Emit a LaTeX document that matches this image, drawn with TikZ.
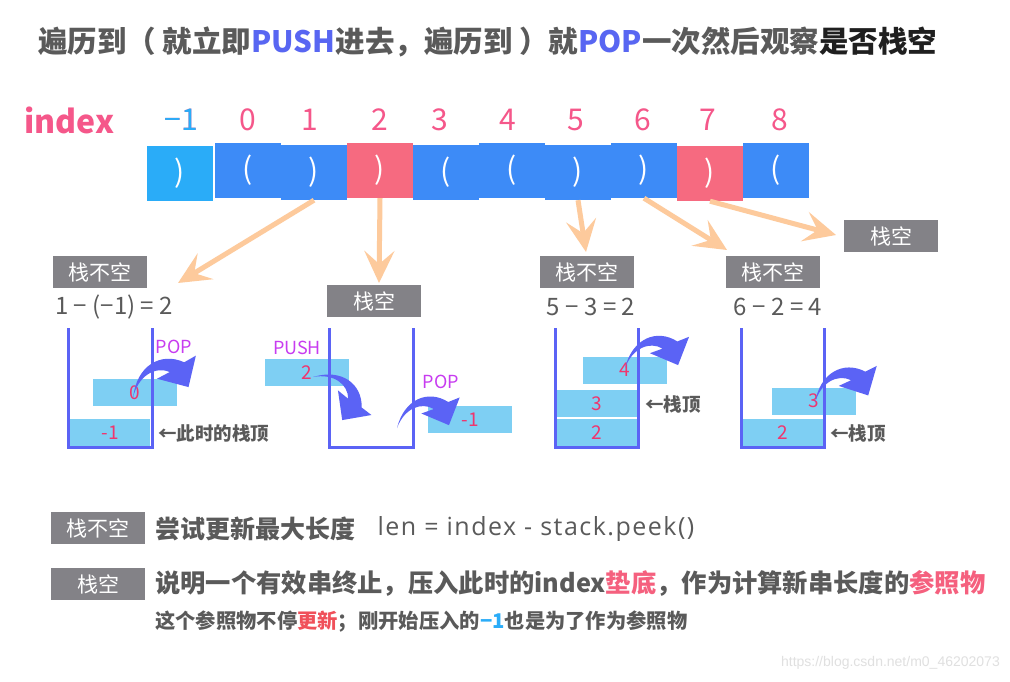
\documentclass[tikz,border=0pt]{standalone}
\usepackage{fontspec}
\setmainfont{Noto Sans CJK SC}
\newfontfamily\codefont{Open Sans}[LetterSpace=6]
\newfontfamily\urlfont{Liberation Sans}
\usetikzlibrary{arrows.meta,positioning}
\definecolor{cellLight}{HTML}{2AACF8}
\definecolor{cellBlue}{HTML}{3D8BF7}
\definecolor{cellPink}{HTML}{F66A80}
\definecolor{idxPink}{HTML}{F5578A}
\definecolor{peach}{HTML}{FDCA9C}
\definecolor{boxGray}{HTML}{838287}
\definecolor{cupBlue}{HTML}{5B63F5}
\definecolor{blockBlue}{HTML}{7ECFF3}
\definecolor{numRed}{HTML}{F0356E}
\definecolor{opPurple}{HTML}{C83CF0}
\definecolor{txtGray}{HTML}{5A5A5A}
\definecolor{hiBlue}{HTML}{5866F2}
\definecolor{hiPink}{HTML}{F5607E}
\definecolor{hiRed}{HTML}{F0505A}
\tikzset{
  cell/.style={minimum width=66pt, minimum height=55pt, inner sep=0pt, text=white,
    font=\fontsize{30}{30}\selectfont},
  idxnum/.style={font=\fontsize{30}{30}\selectfont, text=idxPink, inner sep=0pt},
  tagbox/.style={fill=boxGray, text=white, minimum width=94pt, minimum height=32pt,
    inner sep=0pt, font=\fontsize{21}{21}\selectfont},
  eqn/.style={text=txtGray, font=\fontsize{24}{24}\selectfont, inner sep=0pt},
  peacharrow/.style={draw=peach, line width=5pt, -{Stealth[length=32pt,width=30pt,inset=13pt]}},
  cup/.style={draw=cupBlue, line width=3pt},
  block/.style={fill=blockBlue, minimum height=27pt, inner sep=0pt, text=numRed,
    font=\fontsize{19}{19}\selectfont},
  oplabel/.style={text=opPurple, font=\fontsize{18}{18}\selectfont, inner sep=0pt},
  toplabel/.style={text=txtGray, font=\bfseries\fontsize{18.5}{18.5}\selectfont, inner sep=0pt, anchor=west},
  note/.style={text=txtGray, inner sep=0pt, anchor=west},
}
% curved pop/push arrow: position, rotation, scale
\newcommand{\bendarrow}[3]{%
  \fill[cupBlue, shift={#1}, rotate=#2, scale=#3] (0,0) .. controls (5,-32) and (30,-45) .. (53,-33)
    -- (65,-39) -- (56,-8) -- (25,-18) -- (38,-24) .. controls (24,-31) and (6,-22) .. (0,0) -- cycle;
}
\begin{document}
\begin{tikzpicture}[x=1pt,y=-1pt]
  \fill[white] (0,0) rectangle (1010,682);
  \useasboundingbox (0,0) rectangle (1010,682);
  % title
  \node[note, font=\bfseries\fontsize{29.5}{29.5}\selectfont] (title) at (38,42)
    {遍历到（ 就立即{\color{hiBlue}PUSH}进去，遍历到 ）就{\color{hiBlue}POP}一次然后观察{\color{black!88}是否栈空}};
  % index row and string cells
  \node[idxnum, font=\bfseries\fontsize{32}{32}\selectfont, anchor=west] (idx) at (24,120) {index};
  \foreach \i/\lab/\nx/\cx/\ch/\col/\cy in {m1/{−1}/181/180/{)}/cellLight/173.5, 0/0/248/248/{(}/cellBlue/170.5,
      1/1/310/314/{)}/cellBlue/172.5, 2/2/380/380/{)}/cellPink/170.5, 3/3/440/446/{(}/cellBlue/172.5,
      4/4/508/512/{(}/cellBlue/170.5, 5/5/576/578/{)}/cellBlue/172.5, 6/6/643/644/{)}/cellBlue/170.5,
      7/7/708/710/{)}/cellPink/173.5, 8/8/780/776/{(}/cellBlue/170.5}{
    \node[cell, fill=\col] (c\i) at (\cx,\cy) {\ch};
    \node[idxnum] (n\i) at (\nx,120) {\lab};
  }
  \node[idxnum, text=cellLight] at (nm1) {−1};
  % peach arrows
  \coordinate (t1) at (178,283);
  \coordinate (t2) at (379,283);
  \coordinate (t3) at (586,252);
  \coordinate (t4) at (727,250);
  \coordinate (t5) at (836,235);
  \draw[peacharrow] (c1.south) -- (t1);
  \draw[peacharrow] (c2.south) -- (t2);
  \draw[peacharrow] (c5.south) -- (t3);
  \draw[peacharrow] (c6.south) -- (t4);
  \draw[peacharrow] (c7.south) -- (t5);
  % state tags
  \node[tagbox] (e1) at (100,272) {栈不空};
  \node[tagbox] (e2) at (374,301) {栈空};
  \node[tagbox] (e3) at (587,272) {栈不空};
  \node[tagbox] (e4) at (773,272) {栈不空};
  \node[tagbox] (e5) at (891,236) {栈空};
  \node[eqn] (q1) at (114,307) {1 − (−1) = 2};
  \node[eqn] (q3) at (591,307) {5 − 3 = 2};
  \node[eqn] (q4) at (778,307) {6 − 2 = 4};
  % stack blocks
  \node[block, minimum width=80pt] (k1a) at (110,432.5) {-1};
  \node[block, minimum width=84pt] (k1b) at (135,392.5) {0};
  \node[block, minimum width=84pt] (k2a) at (307,372.5) {2};
  \node[block, minimum width=84pt] (k2b) at (470,419.5) {-1};
  \node[block, minimum width=80pt] (k3a) at (597,432.5) {2};
  \node[block, minimum width=80pt] (k3b) at (597,403.5) {3};
  \node[block, minimum width=84pt] (k3c) at (625,370) {4};
  \node[block, minimum width=80pt] (k4a) at (783,432.5) {2};
  \node[block, minimum width=84pt] (k4b) at (814,401) {3};
  % stacks
  \draw[cup] (68,328) |- (152,447) -- (152,328);
  \draw[cup] (329,328) |- (413,447) -- (413,328);
  \draw[cup] (555,328) |- (638,447) -- (638,328);
  \draw[cup] (741,328) |- (824,447) -- (824,328);
  % push / pop moves
  \node[oplabel] (p1) at (174,347) {POP};
  \node[oplabel] (p2) at (297,348) {PUSH};
  \node[oplabel] (p3) at (441,382) {POP};
  \bendarrow{(133,398)}{3}{1.0}
  \bendarrow{(313,377)}{-64}{0.92}
  \bendarrow{(397,428)}{-5}{0.92}
  \bendarrow{(625,368)}{-5}{0.94}
  \bendarrow{(815,403)}{0}{0.95}
  \node[toplabel] (r1) at (158,433) {←此时的栈顶};
  \node[toplabel] (r3) at (645,404) {←栈顶};
  \node[toplabel] (r4) at (830,433) {←栈顶};
  % notes at the bottom
  \node[tagbox] (b1) at (98,528) {栈不空};
  \node[note, font=\bfseries\fontsize{25}{25}\selectfont] (s1) at (155,529) {尝试更新最大长度};
  \node[note, font=\codefont\fontsize{25}{25}\selectfont, right=22pt of s1] (s1b) {len = index - stack.peek()};
  \node[tagbox] (b2) at (98,584) {栈空};
  \node[note, font=\bfseries\fontsize{25.3}{25.3}\selectfont] (s2) at (155,583)
    {说明一个有效串终止，压入此时的index{\color{hiPink}垫底}，作为计算新串长度的{\color{hiPink}参照物}};
  \node[note, font=\bfseries\fontsize{20.3}{20.3}\selectfont] (s3) at (155,622)
    {这个参照物不停{\color{hiRed}更新}；刚开始压入的{\color{cellLight}−1}也是为了作为参照物};
  \node[text=black!12, font=\urlfont\fontsize{14}{14}\selectfont, anchor=east, inner sep=0pt] (url) at (1000,663)
    {https://blog.csdn.net/m0\_46202073};
\end{tikzpicture}
\end{document}
